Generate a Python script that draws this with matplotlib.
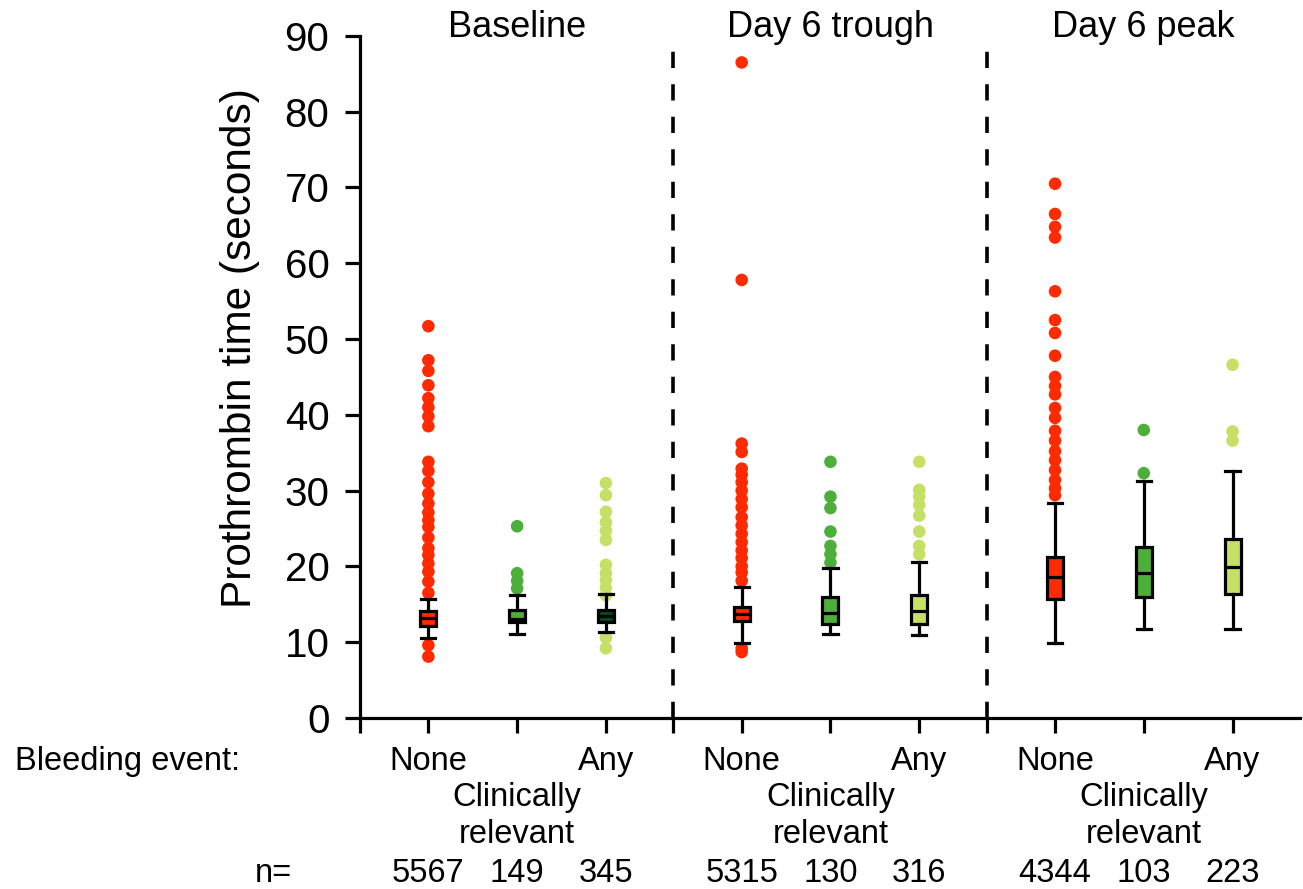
import matplotlib
matplotlib.use("Agg")
import matplotlib.pyplot as plt

plt.rcParams['font.family'] = ['Liberation Sans', 'DejaVu Sans']

# time points and bleeding groups
periods = ["Baseline", "Day 6 trough", "Day 6 peak"]
groups = ["None", "Clinically\nrelevant", "Any"]
n_counts = [[5567, 149, 345], [5315, 130, 316], [4344, 103, 223]]

# box stats: q1, median, q3, lower whisker, upper whisker
q1 = [[12.2, 12.7, 12.6], [12.8, 12.4, 12.4], [15.7, 15.9, 16.4]]
med = [[13.2, 13.0, 13.5], [13.75, 13.9, 14.1], [18.6, 19.1, 19.9]]
q3 = [[14.1, 14.25, 14.3], [14.7, 15.9, 16.2], [21.3, 22.6, 23.6]]
wlo = [[10.6, 11.1, 11.3], [9.9, 11.05, 10.9], [9.9, 11.8, 11.7]]
whi = [[15.7, 16.2, 16.4], [17.3, 19.8, 20.6], [28.4, 31.3, 32.6]]

# outliers
outliers = [
    [
        [51.7, 47.2, 45.8, 43.9, 42.2, 41.0, 39.8, 38.5, 33.8, 32.6, 31.1, 29.6,
         28.3, 27.1, 26.1, 25.2, 23.8, 22.4, 21.5, 20.4, 19.3, 18.0, 16.5, 9.6, 8.1],
        [25.3, 19.1, 18.1, 17.1],
        [31.0, 29.4, 27.2, 25.8, 24.7, 23.5, 20.2, 19.1, 18.2, 17.2, 16.2, 10.6, 9.2],
    ],
    [
        [86.5, 57.8, 36.2, 35.1, 32.9, 32.1, 31.1, 30.0, 28.9, 27.8, 26.5, 25.4,
         24.3, 23.2, 22.1, 21.1, 20.0, 19.2, 18.1, 9.2, 8.7],
        [33.8, 29.2, 27.7, 24.6, 22.7, 21.6, 20.5],
        [33.8, 30.1, 29.2, 28.1, 26.7, 24.6, 22.7, 21.6],
    ],
    [
        [70.5, 66.5, 64.8, 63.4, 56.3, 52.5, 50.8, 47.8, 45.0, 43.8, 42.7, 40.9,
         39.6, 37.9, 36.6, 35.2, 34.0, 32.7, 31.4, 30.3, 29.4],
        [38.0, 32.3],
        [46.6, 37.8, 36.6],
    ],
]

dot_colors = ["#ff2a00", "#4caf3a", "#c5e065"]
box_colors = [["#ff2a00", "#4caf3a", "#004d1a"],
              ["#ff2a00", "#4caf3a", "#c5e065"],
              ["#ff2a00", "#4caf3a", "#c5e065"]]

span = 3.53      # width of one period block
offset = 0.77    # first box from block start

fig = plt.figure(figsize=(13.03, 8.89), dpi=100)
ax = fig.add_axes([0.2763, 0.1924, 0.7214, 0.7672])

lw = 2.3
for p in range(3):
    for g in range(3):
        x = p * span + offset + g
        ax.scatter([x] * len(outliers[p][g]), outliers[p][g], s=82,
                   color=dot_colors[g], edgecolors='none', zorder=2, clip_on=False)
        stats = [dict(med=med[p][g], q1=q1[p][g], q3=q3[p][g],
                      whislo=wlo[p][g], whishi=whi[p][g], fliers=[])]
        ax.bxp(stats, positions=[x], widths=0.18, patch_artist=True,
               showfliers=False, manage_ticks=False,
               boxprops=dict(facecolor=box_colors[p][g], edgecolor='black', linewidth=lw),
               medianprops=dict(color='black', linewidth=lw),
               whiskerprops=dict(color='black', linewidth=lw),
               capprops=dict(color='black', linewidth=lw),
               capwidths=0.16, zorder=3)

# period separators
for p in range(1, 3):
    ax.plot([p * span, p * span], [0, 89.2], color='black', linewidth=2.6,
            dashes=(4.5, 4.5), zorder=1)

ax.set_xlim(0, 3 * span)
ax.set_ylim(0, 90)
ax.set_yticks(range(0, 91, 10))
xt = [0]
for p in range(3):
    if p > 0:
        xt.append(p * span)
    xt += [p * span + offset + g for g in range(3)]
ax.set_xticks(xt)
ax.set_xticklabels([])

for s in ['top', 'right']:
    ax.spines[s].set_visible(False)
for s in ['left', 'bottom']:
    ax.spines[s].set_linewidth(lw)
ax.tick_params(axis='both', width=lw, length=11, direction='out')
ax.tick_params(axis='y', labelsize=29, pad=11)

# period titles
for p, name in enumerate(periods):
    ax.text(p * span + offset + 1, 91.1, name, ha='center', va='center',
            fontsize=26, clip_on=False)

# bottom labels
fs = 23.5
ax.text(-3.89, -5.8, "Bleeding event:", ha='left', va='center', fontsize=fs, clip_on=False)
ax.text(-0.97, -20.5, "n=", ha='center', va='center', fontsize=fs, clip_on=False)
for p in range(3):
    base = p * span + offset
    ax.text(base, -5.8, "None", ha='center', va='center', fontsize=fs, clip_on=False)
    ax.text(base + 2, -5.8, "Any", ha='center', va='center', fontsize=fs, clip_on=False)
    ax.text(base + 1, -13.0, groups[1], ha='center', va='center', fontsize=fs,
            linespacing=1.25, clip_on=False)
    for g in range(3):
        ax.text(base + g, -20.5, str(n_counts[p][g]), ha='center', va='center',
                fontsize=fs, clip_on=False)

fig.text(240 / 1303, 1 - 348 / 889, "Prothrombin time (seconds)", rotation=90,
         ha='center', va='center', fontsize=30.5)

fig.savefig("out.png", dpi=100)
